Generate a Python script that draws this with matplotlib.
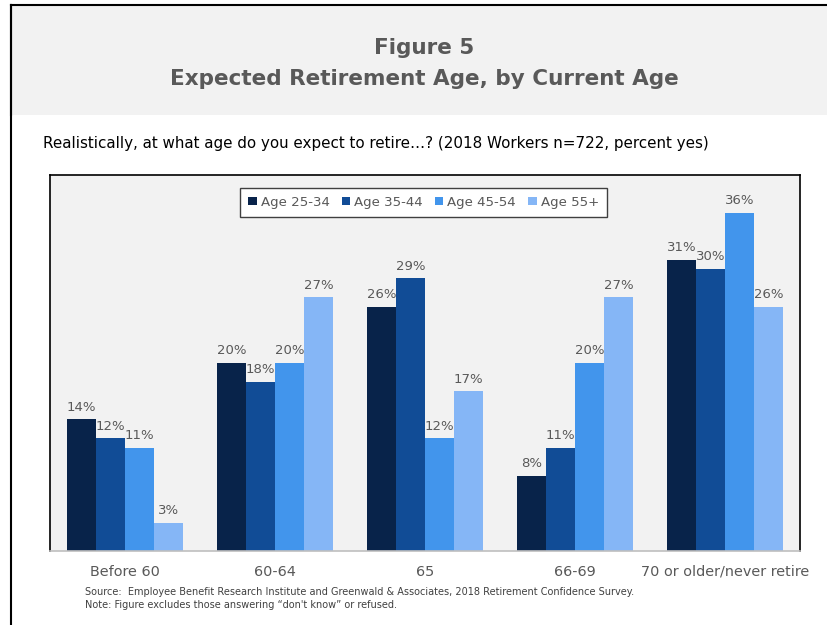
import matplotlib.pyplot as plt
import numpy as np

# Data
categories = ["Before 60", "60-64", "65", "66-69", "70 or older/never retire"]
series_names = ["Age 25-34", "Age 35-44", "Age 45-54", "Age 55+"]
age_25_34 = [14, 20, 26, 8, 31]
age_35_44 = [12, 18, 29, 11, 30]
age_45_54 = [11, 20, 12, 20, 36]
age_55_up = [3, 27, 17, 27, 26]
colors = ["#08234a", "#114c96", "#4295ec", "#85b6f6"]

values = [age_25_34, age_35_44, age_45_54, age_55_up]

plt.rcParams['font.family'] = ['DejaVu Sans']
gray = "#595959"

fig = plt.figure(figsize=(8.27, 6.25), dpi=100)

# header band
hdr = fig.add_axes([11 / 827, 1 - 115 / 625, 1 - 11 / 827, 110 / 625])
hdr.set_facecolor("#f2f2f2")
hdr.set_xticks([])
hdr.set_yticks([])
for s in ["right", "bottom"]:
    hdr.spines[s].set_visible(False)
hdr.spines["top"].set_linewidth(1.5)
hdr.spines["left"].set_linewidth(1.5)
fig.add_artist(plt.Line2D([11 / 827, 11 / 827], [0, 1 - 5 / 625], color="black", lw=1.5))

fig.text(0.513, 1 - 48 / 625, "Figure 5", ha="center", va="center",
         fontsize=15.5, fontweight="bold", color=gray)
fig.text(0.513, 1 - 79 / 625, "Expected Retirement Age, by Current Age", ha="center",
         va="center", fontsize=15.5, fontweight="bold", color=gray)
fig.text(43 / 827, 1 - 144 / 625,
         "Realistically, at what age do you expect to retire\u2026? (2018 Workers n=722, percent yes)",
         ha="left", va="center", fontsize=10.9, color="black")

ax = fig.add_axes([50 / 827, 74 / 625, 750 / 827, 376 / 625])
ax.set_facecolor("#f2f2f2")

x = np.arange(len(categories))
w = 0.193
for i, (name, vals) in enumerate(zip(series_names, values)):
    pos = x + (i - 1.5) * w
    bars = ax.bar(pos, vals, w, color=colors[i], label=name)
    for b, v in zip(bars, vals):
        ax.text(b.get_x() + b.get_width() / 2, v + 0.6, f"{v}%", ha="center",
                va="bottom", fontsize=9.5, color=gray)

ax.set_xlim(-0.5, 4.5)
ax.set_ylim(0, 40)
ax.set_yticks([])
ax.set_xticks(x)
ax.set_xticklabels(categories, fontsize=10.4, color=gray)
ax.tick_params(axis="x", length=0, pad=10)
for s in ["left", "top", "right"]:
    ax.spines[s].set_color("black")
    ax.spines[s].set_linewidth(1.2)
ax.spines["bottom"].set_color("#bfbfbf")
ax.spines["bottom"].set_linewidth(1.2)

leg = ax.legend(loc="upper center", bbox_to_anchor=(0.498, 0.984), ncol=4, fontsize=9.6,
                frameon=True, fancybox=False, handlelength=0.65, handleheight=0.65,
                handletextpad=0.3, columnspacing=0.9, borderpad=0.6)
leg.get_frame().set_edgecolor("#404040")
leg.get_frame().set_facecolor("white")
leg.get_frame().set_alpha(1)
for t in leg.get_texts():
    t.set_color(gray)

fig.text(85 / 827, 1 - 592 / 625,
         "Source:  Employee Benefit Research Institute and Greenwald & Associates, 2018 Retirement Confidence Survey.",
         fontsize=7.0, color="#404040", va="center")
fig.text(85 / 827, 1 - 605 / 625,
         "Note: Figure excludes those answering \u201cdon't know\u201d or refused.",
         fontsize=7.0, color="#404040", va="center")

fig.savefig("out.png", dpi=100)
